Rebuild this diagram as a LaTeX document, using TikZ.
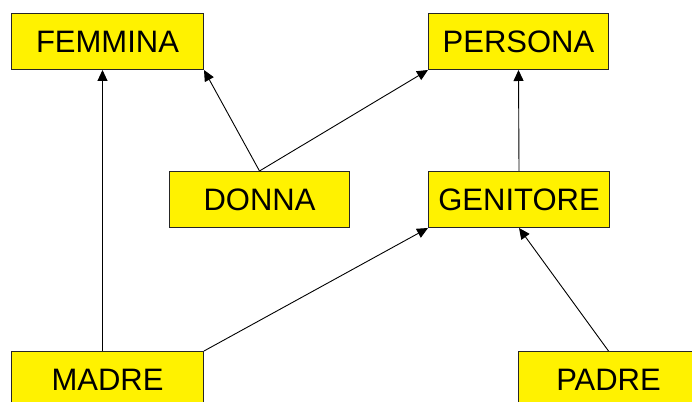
\documentclass[tikz,border=0pt]{standalone}
\usepackage{fontspec}
\setmainfont{Liberation Sans}
\usetikzlibrary{arrows.meta}
\begin{document}
\begin{tikzpicture}[x=1pt,y=1pt,
  entity/.style={draw=black!85, line width=1pt, fill=yellow, minimum height=56pt,
    inner sep=0pt, font=\fontsize{31}{31}\selectfont, anchor=north west},
  isa/.style={-{Triangle[width=10pt,length=11pt]}, line width=0.9pt}]
\useasboundingbox (0,0) rectangle (692,401);

% entity boxes
\node[entity, minimum width=192pt] (femmina) at (11,388) {FEMMINA};
\node[entity, minimum width=180pt] (persona) at (428,388) {PERSONA};
\node[entity, minimum width=180pt] (donna)   at (169,230) {DONNA};
\node[entity, minimum width=181pt] (genitore) at (428,230) {GENITORE};
\node[entity, minimum width=192pt] (madre)   at (11,50) {MADRE};
\node[entity, minimum width=180pt] (padre)   at (518,50) {PADRE};

% generalisation links
\draw[isa] ([xshift=-5pt]madre.north) -- ([xshift=-5pt]femmina.south);
\draw[isa] (donna.north) -- (femmina.south east);
\draw[isa] (donna.north) -- (persona.south west);
\draw[isa] (genitore.north) -- (persona.south);
\draw[isa] (madre.north east) -- (genitore.south west);
\draw[isa] (padre.north) -- (genitore.south);
\end{tikzpicture}
\end{document}
